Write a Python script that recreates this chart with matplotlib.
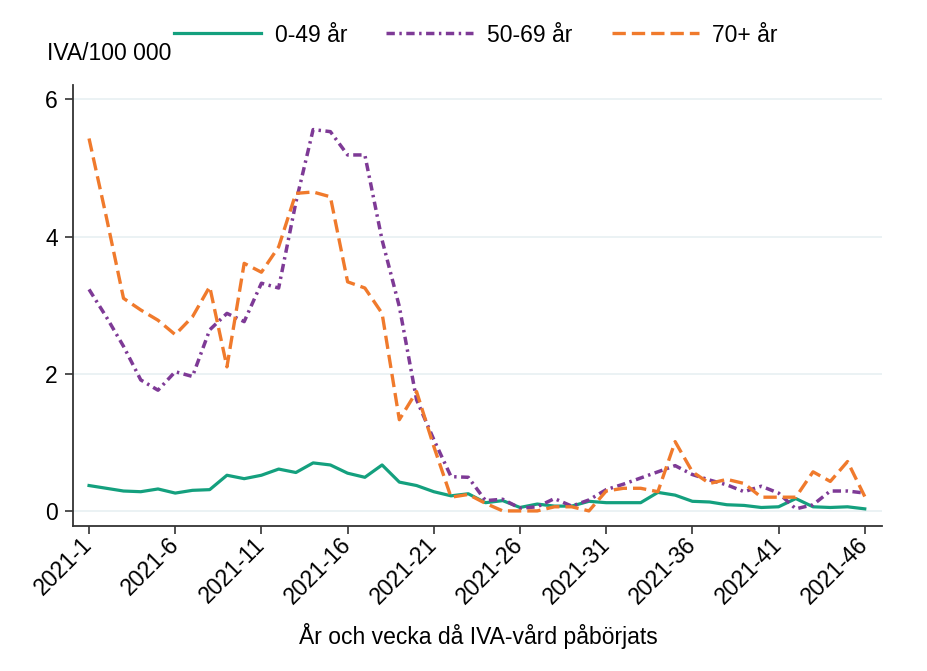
import matplotlib
matplotlib.use("Agg")
import matplotlib.pyplot as plt
import numpy as np

plt.rcParams['font.family'] = ['Liberation Sans', 'DejaVu Sans']

weeks = list(range(1, 47))
tick_weeks = [1, 6, 11, 16, 21, 26, 31, 36, 41, 46]
tick_labels = [f"2021-{w}" for w in tick_weeks]

age_0_49 = [0.37, 0.33, 0.29, 0.28, 0.32, 0.26, 0.30, 0.31, 0.52, 0.47,
            0.52, 0.61, 0.56, 0.70, 0.67, 0.55, 0.49, 0.67, 0.42, 0.37,
            0.28, 0.22, 0.25, 0.12, 0.15, 0.05, 0.10, 0.07, 0.07, 0.14,
            0.12, 0.12, 0.12, 0.27, 0.23, 0.14, 0.13, 0.09, 0.08, 0.05,
            0.06, 0.18, 0.06, 0.05, 0.06, 0.03]
age_50_69 = [3.23, 2.83, 2.40, 1.91, 1.76, 2.03, 1.96, 2.64, 2.88, 2.76,
             3.32, 3.25, 4.50, 5.56, 5.53, 5.19, 5.19, 3.95, 2.98, 1.62,
             1.04, 0.50, 0.49, 0.15, 0.17, 0.04, 0.06, 0.18, 0.07, 0.16,
             0.31, 0.39, 0.48, 0.57, 0.66, 0.53, 0.45, 0.38, 0.28, 0.36,
             0.26, 0.03, 0.09, 0.29, 0.29, 0.26]
age_70 = [5.43, 4.29, 3.10, 2.93, 2.78, 2.57, 2.83, 3.27, 2.10, 3.61,
          3.48, 3.85, 4.63, 4.65, 4.58, 3.34, 3.25, 2.88, 1.33, 1.74,
          0.94, 0.20, 0.24, 0.11, 0.00, 0.00, 0.00, 0.06, 0.06, 0.00,
          0.29, 0.33, 0.33, 0.28, 1.01, 0.57, 0.40, 0.46, 0.40, 0.20,
          0.20, 0.20, 0.57, 0.43, 0.72, 0.21]

series_labels = ["0-49 år", "50-69 år", "70+ år"]

green = "#14a07e"
purple = "#7e3a96"
orange = "#f07a2c"

fig = plt.figure(figsize=(9.27, 6.71), dpi=100)
ax = fig.add_axes([73/927, 1-526/671, (882-73)/927, (526-85)/671])

ax.plot(weeks, age_0_49, color=green, lw=2.3, label=series_labels[0], zorder=3)
ax.plot(weeks, age_50_69, color=purple, lw=2.5, label=series_labels[1],
        dashes=(2.4, 1.3, 0.7, 1.3), zorder=3)
ax.plot(weeks, age_70, color=orange, lw=2.4, label=series_labels[2],
        dashes=(4.0, 1.8), zorder=3)

ax.set_xlim(0.07, 47.0)
ax.set_ylim(-0.22, 6.21)
ax.set_yticks([0, 2, 4, 6])
ax.set_xticks(tick_weeks)
ax.set_xticklabels(tick_labels, rotation=45, ha='right', va='center',
                   rotation_mode='anchor')
ax.yaxis.grid(True, color="#e9f1f3", lw=1.3)
ax.set_axisbelow(True)
for s in ["top", "right"]:
    ax.spines[s].set_visible(False)
for s in ["left", "bottom"]:
    ax.spines[s].set_color("#333333")
    ax.spines[s].set_linewidth(1.3)
ax.tick_params(axis='both', length=6, width=1.2, color="#333333",
               labelsize=16.5, labelcolor="black")
ax.tick_params(axis='y', pad=5)
ax.tick_params(axis='x', pad=5)

fig.text(47/927, 1-54/671, "IVA/100 000", fontsize=16.5, ha='left', va='center')
fig.text(478/927, 1-636/671, "År och vecka då IVA-vård påbörjats",
         fontsize=16.5, ha='center', va='center')

leg = fig.legend(loc='center', bbox_to_anchor=(476/927, 1-35/671), ncol=3,
                 frameon=False, fontsize=16.5, handlelength=3.8,
                 handletextpad=0.6, columnspacing=1.7)

fig.savefig("out.png", dpi=100, facecolor="white")
